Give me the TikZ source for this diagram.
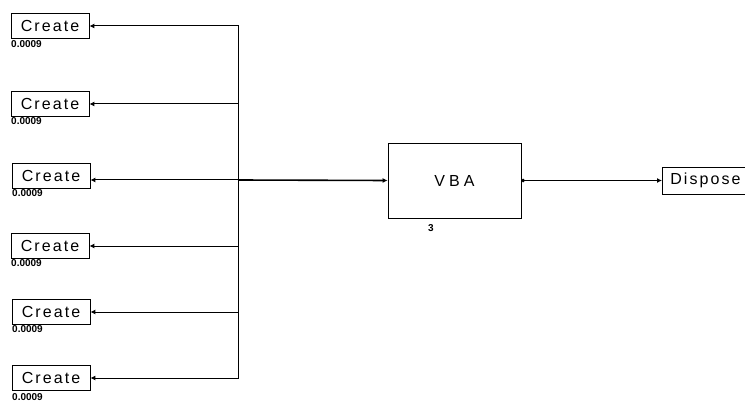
\documentclass[tikz,border=0pt]{standalone}
\usepackage{fontspec}
\setmainfont{Liberation Sans}
\usetikzlibrary{arrows.meta,calc}
\begin{document}
\begin{tikzpicture}[x=1pt,y=-1pt,
 blk/.style={draw=black,line width=0.8pt,inner sep=0pt},
 lbl/.style={font=\fontsize{16}{18}\selectfont\addfontfeature{LetterSpace=13}},
 createbox/.style={blk,lbl,minimum width=78pt,minimum height=25pt},
 val/.style={font=\bfseries\fontsize{10}{11}\selectfont,anchor=west,inner sep=0pt},
 wire/.style={line width=1pt},
 port/.style={{Latex[length=5pt,width=5pt]}-}
]
\useasboundingbox (0,0) rectangle (745,409);
\node[createbox] (c1) at (50,26) {Create};
\node[val] (v1) at (11,44) {0.0009};
\node[createbox] (c2) at (50,104) {Create};
\node[val] (v2) at (11,121) {0.0009};
\node[createbox] (c3) at (51,176) {Create};
\node[val] (v3) at (12,193) {0.0009};
\node[createbox] (c4) at (50,246) {Create};
\node[val] (v4) at (11,263) {0.0009};
\node[createbox] (c5) at (51,312) {Create};
\node[val] (v5) at (12,329) {0.0009};
\node[createbox] (c6) at (51,378) {Create};
\node[val] (v6) at (12,397) {0.0009};
\coordinate (j) at (238,180);
\node[blk,minimum width=133pt,minimum height=75pt,font=\fontsize{16}{18}\selectfont\addfontfeature{LetterSpace=25}] (vba) at (454.5,180.5) {VBA};
\node[font=\bfseries\fontsize{10}{11}\selectfont,inner sep=0pt] (n3) at (431,228) {3};
\node[blk,lbl,minimum width=86pt,minimum height=27pt,anchor=west] (disp) at (662,180.5) {Dispose};
\draw[wire,port] (c1.east) -| (j);
\draw[wire,port] (c2.east) -| (j);
\draw[wire,port] (c3.east |- j) -- (j);
\draw[wire,port] (c4.east) -| (j);
\draw[wire,port] (c5.east) -| (j);
\draw[wire,port] (c6.east) -| (j);
\draw[line width=1.6pt,-{Latex[length=5pt,width=5pt]}] (j) -- (vba.west);
\draw[wire,{Circle[length=3.5pt]}-{Latex[length=5pt,width=5pt]}] (vba.east) -- (disp.west);
\end{tikzpicture}
\end{document}
